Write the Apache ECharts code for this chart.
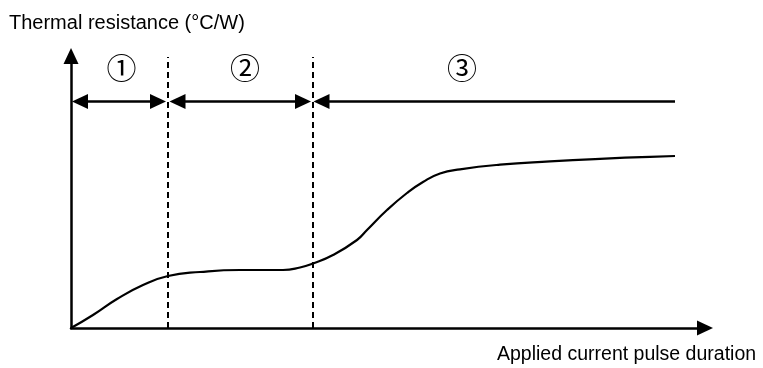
<!DOCTYPE html>
<html>
<head>
<meta charset="utf-8">
<script src="https://cdn.jsdelivr.net/npm/echarts@6/dist/echarts.min.js"></script>
<style>html,body{margin:0;padding:0;background:#fff}#c{width:763px;height:368px}</style>
</head>
<body>
<div id="c"></div>
<script>
// Curve (arbitrary units: x = time, y = thermal resistance)
const curveX = [0, 22, 46, 72, 97, 129, 169, 212, 229, 242, 262, 286, 296, 316, 336, 352, 369, 389, 429, 479, 529, 579, 604];
const curveY = [0, 13, 29, 43, 52, 56, 58, 58, 60.5, 64.5, 73, 88, 98, 118, 135, 146, 154.5, 158.7, 163.3, 166.6, 169.2, 171.2, 172];
// Region boundaries (dashed lines)
const boundaryX = [96.5, 241.5];
const boundaryTop = 271;
// Region arrows
const arrowY = 226.5;
const regionStart = [1, 98.5, 242.5];
const regionEnd = [95, 240, 604];
const regionArrowEnd = [true, true, false];
// Region labels
const regionLabels = ['①', '②', '③'];
const regionLabelX = [50.5, 174, 391];
const regionLabelY = 260;
// Axis titles
const yTitle = 'Thermal resistance (°C/W)';
const xTitle = 'Applied current pulse duration';
const xMax = 634, yMax = 272;

const textFont = "'Liberation Sans', Arial, sans-serif";
const headLen = 16;

const chart = echarts.init(document.getElementById('c'), null, {renderer: 'canvas'});

const dashedLines = boundaryX.map(x => [
  {coord: [x, 0], symbol: 'none'},
  {coord: [x, boundaryTop], symbol: 'none'}
]);
const arrowLines = regionStart.map((s, i) => {
  const e = regionEnd[i];
  return [
    {coord: [s + headLen / 2, arrowY], symbol: 'triangle'},
    {coord: [regionArrowEnd[i] ? e - headLen / 2 : e, arrowY], symbol: regionArrowEnd[i] ? 'triangle' : 'none'}
  ];
});

chart.setOption({
  animation: false,
  backgroundColor: '#fff',
  title: [
    {text: yTitle, left: 9, top: 13, padding: 0,
     textStyle: {fontFamily: textFont, fontSize: 20, fontWeight: 'normal', color: '#000'}},
    {text: xTitle, left: 497, top: 345, padding: 0,
     textStyle: {fontFamily: textFont, fontSize: 19.5, fontWeight: 'normal', color: '#000'}}
  ],
  grid: {left: 71, right: 58, top: 56, bottom: 40, containLabel: false},
  xAxis: {
    type: 'value', min: 0, max: xMax,
    axisLine: {show: true, onZero: false, lineStyle: {color: '#000', width: 2.5},
      symbol: ['none', 'triangle'], symbolSize: [15, 16]},
    axisTick: {show: false}, axisLabel: {show: false}, splitLine: {show: false}
  },
  yAxis: {
    type: 'value', min: 0, max: yMax,
    axisLine: {show: true, onZero: false, lineStyle: {color: '#000', width: 2.5},
      symbol: ['none', 'triangle'], symbolSize: [15, 16]},
    axisTick: {show: false}, axisLabel: {show: false}, splitLine: {show: false}
  },
  series: [
    {
      type: 'line',
      data: curveX.map((x, i) => [x, curveY[i]]),
      smooth: 0.5,
      showSymbol: false,
      lineStyle: {color: '#000', width: 2.2},
      silent: true
    },
    {
      type: 'line', data: [], silent: true,
      markLine: {
        silent: true, animation: false,
        symbol: 'none',
        label: {show: false},
        lineStyle: {color: '#000', width: 2, type: [6, 4]},
        emphasis: {disabled: true},
        data: dashedLines
      }
    },
    {
      type: 'line', data: [], silent: true,
      markLine: {
        silent: true, animation: false,
        symbolSize: [15, headLen],
        label: {show: false},
        itemStyle: {color: '#000'},
        lineStyle: {color: '#000', width: 2.5, type: 'solid'},
        emphasis: {disabled: true},
        data: arrowLines
      }
    },
    {
      type: 'line', data: [], silent: true,
      markPoint: {
        silent: true, animation: false,
        symbol: 'circle', symbolSize: 1,
        itemStyle: {color: 'rgba(0,0,0,0)'},
        label: {show: true, position: 'inside', formatter: '{b}', color: '#000',
          fontSize: 30, fontFamily: "'Noto Sans CJK JP', sans-serif"},
        data: regionLabels.map((t, i) => ({name: t, coord: [regionLabelX[i], regionLabelY]}))
      }
    }
  ]
});
</script>
</body>
</html>
